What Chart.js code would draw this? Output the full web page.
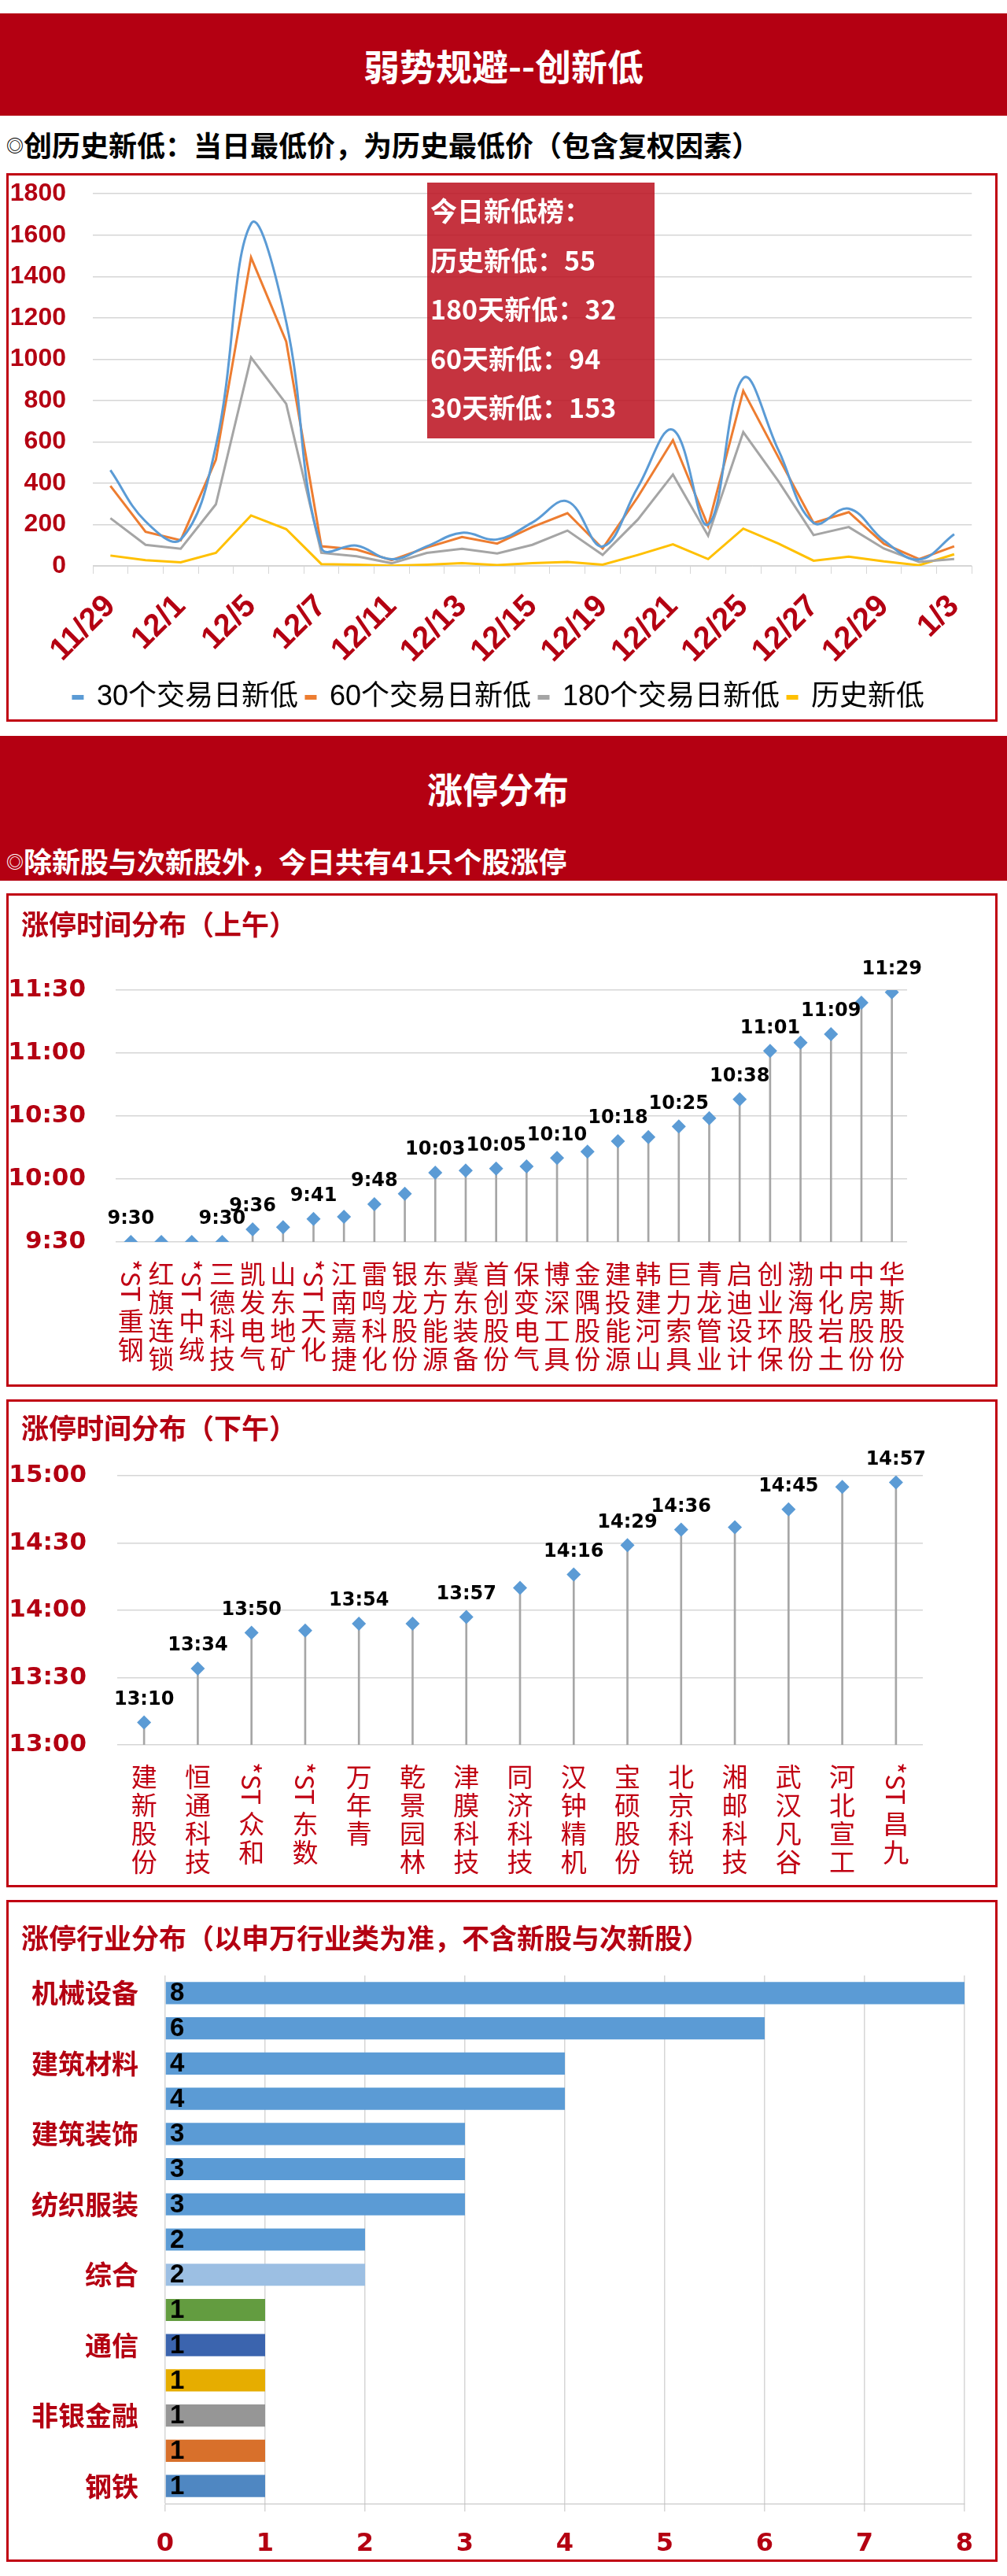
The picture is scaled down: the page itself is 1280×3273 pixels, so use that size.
<!DOCTYPE html>
<html>
<head>
<meta charset="utf-8">
<script src="https://cdn.jsdelivr.net/npm/chart.js@4.4.1/dist/chart.umd.min.js"></script>
<style>
  body { margin: 0; width: 1280px; height: 3273px; background: #fff; position: relative; overflow: hidden;
         font-family: "Noto Sans CJK SC", sans-serif; }
  .abs { position: absolute; }
  .red { background: #b40012; left: 0; width: 1280px; }
  .box { position: absolute; left: 8px; width: 1254px; border: 3px solid #c00012; background: #fff; }
  .box canvas { position: absolute; left: 0; top: 0; }
  .white { color: #fff; font-weight: bold; }
  .ctitle { position: absolute; left: 27px; height: 44px; line-height: 44px; font-size: 35px; font-weight: bold; color: #b40012; white-space: nowrap; z-index: 2; }
  .sub { position: absolute; left: 8px; height: 46px; line-height: 46px; font-size: 36px; font-weight: bold; white-space: nowrap; }
  .ring { font-size: 22px; vertical-align: 6px; }
  #info { left: 543px; top: 232px; width: 289px; height: 325px; background: rgba(188, 18, 32, 0.86); z-index: 3;
          color: #fff; font-weight: bold; font-size: 34px; padding: 4px 0 0 4px; box-sizing: border-box; }
  #info div { height: 62.5px; line-height: 62.5px; white-space: nowrap; }
</style>
</head>
<body>

<div class="abs red" style="top:17px;height:130px"></div>
<div class="abs white" style="top:17px;left:0;width:1280px;height:130px;line-height:130px;text-align:center;font-size:46px">弱势规避--创新低</div>
<div class="sub" style="top:160px;color:#000"><span class="ring">◎</span>创历史新低：当日最低价，为历史最低价（包含复权因素）</div>

<div class="box" style="top:220px;height:691px"><canvas id="lowChart" width="1254" height="691"></canvas></div>
<div id="info" class="abs">
  <div>今日新低榜：</div>
  <div>历史新低：55</div>
  <div>180天新低：32</div>
  <div>60天新低：94</div>
  <div>30天新低：153</div>
</div>

<div class="abs red" style="top:935px;height:184px"></div>
<div class="abs white" style="top:972px;left:0;width:1266px;height:60px;line-height:60px;text-align:center;font-size:45px">涨停分布</div>
<div class="sub white" style="top:1070px"><span class="ring">◎</span>除新股与次新股外，今日共有41只个股涨停</div>

<div class="box" style="top:1135px;height:621px"><canvas id="amChart" width="1254" height="621"></canvas></div>
<div class="ctitle" style="top:1151px">涨停时间分布（上午）</div>

<div class="box" style="top:1778px;height:614px"><canvas id="pmChart" width="1254" height="614"></canvas></div>
<div class="ctitle" style="top:1791px">涨停时间分布（下午）</div>

<div class="box" style="top:2414px;height:835px"><canvas id="indChart" width="1254" height="835"></canvas></div>
<div class="ctitle" style="top:2439px">涨停行业分布（以申万行业类为准，不含新股与次新股）</div>

<script>
// ---- new lows ----
const dates = ['11/29','11/30','12/1','12/4','12/5','12/6','12/7','12/8','12/11','12/12','12/13','12/14','12/15',
  '12/18','12/19','12/20','12/21','12/22','12/25','12/26','12/27','12/28','12/29','1/2','1/3'];
const low30 = [463,215,128,580,1655,1180,88,98,32,95,160,128,210,312,94,380,658,200,908,560,208,277,123,31,153];
const low60 = [387,165,124,514,1492,1085,95,79,28,89,140,108,188,255,84,333,608,193,847,525,208,260,107,33,95];
const low180 = [231,102,83,298,1008,784,63,47,13,63,83,60,102,171,53,224,442,146,647,410,149,188,84,19,33];
const lowHist = [50,28,17,63,244,178,9,6,1,6,13,4,13,19,6,53,104,33,180,108,25,45,22,3,56];

// ---- limit-up times, morning ----
const amNames = ['*ST重钢','红旗连锁','*ST中绒','三德科技','凯发电气','山东地矿','*ST天化','江南嘉捷','雷鸣科化',
  '银龙股份','东方能源','冀东装备','首创股份','保变电气','博深工具','金隅股份','建投能源','韩建河山','巨力索具',
  '青龙管业','启迪设计','创业环保','渤海股份','中化岩土','中房股份','华斯股份'];
const amTimes = ['9:30','9:30','9:30','9:30','9:36','9:37','9:41','9:42','9:48','9:53','10:03','10:04','10:05',
  '10:06','10:10','10:13','10:18','10:20','10:25','10:29','10:38','11:01','11:05','11:09','11:24','11:29'];
const amShown = [0,3,4,6,8,10,12,14,16,18,20,21,23,25];

// ---- limit-up times, afternoon ----
const pmNames = ['建新股份','恒通科技','*ST众和','*ST东数','万年青','乾景园林','津膜科技','同济科技','汉钟精机',
  '宝硕股份','北京科锐','湘邮科技','武汉凡谷','河北宣工','*ST昌九'];
const pmTimes = ['13:10','13:34','13:50','13:51','13:54','13:54','13:57','14:10','14:16','14:29','14:36','14:37',
  '14:45','14:55','14:57'];
const pmShown = [0,1,2,4,6,8,9,10,12,14];

// ---- industries ----
const indNames = ['机械设备','','建筑材料','','建筑装饰','','纺织服装','','综合','','通信','','非银金融','','钢铁'];
const indCounts = [8,6,4,4,3,3,3,2,2,1,1,1,1,1,1];
const indColors = ['#5b9bd5','#5b9bd5','#5b9bd5','#5b9bd5','#5b9bd5','#5b9bd5','#5b9bd5','#5b9bd5',
  '#9cbfe3','#639c40','#3b64ae','#e6ad00','#969696','#d8702b','#4f87c2'];

const RED = '#b40012';
const GRID = '#d6d6d6';

function toMin(t) {
  const p = t.split(':');
  return +p[0] * 60 + +p[1];
}
function fmtMin(v) {
  return Math.floor(v / 60) + ':' + String(v % 60).padStart(2, '0');
}

Chart.defaults.font.family = '"Liberation Sans", "Noto Sans CJK SC", sans-serif';
Chart.defaults.animation = false;

// time labels above markers
const pointLabels = {
  id: 'pointLabels',
  afterDatasetsDraw(chart, args, opts) {
    const meta = chart.getDatasetMeta(opts.dataset);
    const ctx = chart.ctx;
    ctx.save();
    ctx.font = 'bold 24px "DejaVu Sans"';
    ctx.fillStyle = '#000';
    ctx.textAlign = 'center';
    ctx.textBaseline = 'middle';
    opts.shown.forEach(i => {
      const p = meta.data[i];
      ctx.fillText(opts.texts[i], p.x, p.y - 29);
    });
    ctx.restore();
  }
};

// stock names written top to bottom
const vertNames = {
  id: 'vertNames',
  afterDraw(chart, args, opts) {
    const xs = chart.scales.x;
    const ctx = chart.ctx;
    const step = opts.step;
    ctx.save();
    ctx.font = '33px "Noto Sans CJK SC"';
    ctx.fillStyle = '#c00012';
    ctx.textBaseline = 'middle';
    opts.names.forEach((name, i) => {
      const x = xs.getPixelForValue(i);
      let y = chart.chartArea.bottom + opts.gap;
      let rest = name;
      if (name.startsWith('*ST')) {
        const w = ctx.measureText('*ST').width;
        ctx.save();
        ctx.translate(x, y);
        ctx.rotate(Math.PI / 2);
        ctx.textAlign = 'left';
        ctx.fillText('*ST', 0, 0);
        ctx.restore();
        y += w + 6;
        rest = name.slice(3);
      }
      ctx.textAlign = 'center';
      for (const ch of rest) {
        ctx.fillText(ch, x, y + step / 2);
        y += step;
      }
    });
    ctx.restore();
  }
};

// counts at the bar base
const barValues = {
  id: 'barValues',
  afterDatasetsDraw(chart) {
    const meta = chart.getDatasetMeta(0);
    const x0 = chart.scales.x.getPixelForValue(0);
    const ctx = chart.ctx;
    ctx.save();
    ctx.font = 'bold 33px "Liberation Sans"';
    ctx.fillStyle = '#000';
    ctx.textAlign = 'left';
    ctx.textBaseline = 'middle';
    meta.data.forEach((bar, i) => {
      ctx.fillText(String(indCounts[i]), x0 + 6, bar.y + 1);
    });
    ctx.restore();
  }
};

new Chart(document.getElementById('lowChart'), {
  type: 'line',
  data: {
    labels: dates,
    datasets: [
      { label: '30个交易日新低', data: low30, borderColor: '#5b9bd5', backgroundColor: '#5b9bd5', borderWidth: 3, tension: 0.4, pointRadius: 0 },
      { label: '60个交易日新低', data: low60, borderColor: '#ed7d31', backgroundColor: '#ed7d31', borderWidth: 3, tension: 0, pointRadius: 0 },
      { label: '180个交易日新低', data: low180, borderColor: '#a5a5a5', backgroundColor: '#a5a5a5', borderWidth: 3, tension: 0, pointRadius: 0 },
      { label: '历史新低', data: lowHist, borderColor: '#ffc000', backgroundColor: '#ffc000', borderWidth: 3, tension: 0, pointRadius: 0 }
    ]
  },
  options: {
    responsive: false,
    devicePixelRatio: 1,
    layout: { padding: { top: 22, right: 8, bottom: 0, left: 0 } },
    plugins: {
      tooltip: { enabled: false },
      legend: {
        position: 'bottom',
        labels: { color: '#000', font: { size: 36 }, boxWidth: 12, boxHeight: 3, padding: 10 }
      }
    },
    scales: {
      x: {
        offset: true,
        grid: { offset: true, drawOnChartArea: false, tickLength: 10, color: GRID },
        border: { color: GRID },
        ticks: {
          autoSkip: false, maxRotation: 45, minRotation: 45, padding: 18,
          color: RED, font: { size: 40, weight: 'bold' },
          callback: (v, i) => (i % 2 === 0 ? dates[i] : '')
        },
        afterFit: s => { s.height = 139; }
      },
      y: {
        min: 0, max: 1800,
        // transparent tick marks give the label gap without padding the top of the axis
        grid: { color: GRID, lineWidth: 1.5, drawTicks: true, tickLength: 30, tickColor: 'rgba(0,0,0,0)' },
        border: { display: false },
        ticks: { stepSize: 200, padding: 4, color: RED, font: { size: 32, weight: 'bold' }, callback: v => String(v) },
        afterFit: s => { s.width = 107; }
      }
    }
  }
});

function timeChart(id, names, times, shown, yMin, yMax, pad, yWidth, yPad) {
  const mins = times.map(toMin);
  new Chart(document.getElementById(id), {
    type: 'bar',
    data: {
      labels: names,
      datasets: [
        { type: 'line', data: mins, showLine: false, pointStyle: 'rectRot', pointRadius: 9,
          pointBackgroundColor: '#5b9bd5', pointBorderColor: '#5b9bd5', pointBorderWidth: 0, order: 1 },
        { type: 'bar', data: mins.map(v => [yMin, v]), backgroundColor: '#a6a6a6', barThickness: 2, order: 2 }
      ]
    },
    options: {
      responsive: false,
      devicePixelRatio: 1,
      layout: { padding: pad },
      plugins: {
        legend: { display: false },
        tooltip: { enabled: false },
        pointLabels: { dataset: 0, shown: shown, texts: times },
        vertNames: { names: names, gap: 22, step: 36 }
      },
      scales: {
        x: { type: 'category', offset: true, grid: { display: false }, ticks: { display: false }, border: { display: false } },
        y: {
          min: yMin, max: yMax,
          grid: { color: GRID, lineWidth: 1.5, drawTicks: false },
          border: { display: false },
          ticks: { stepSize: 30, padding: yPad, color: RED, font: { size: 31, weight: 'bold', family: '"DejaVu Sans"' }, callback: v => fmtMin(v) },
          afterFit: s => { s.width = yWidth; }
        }
      }
    },
    plugins: [pointLabels, vertNames]
  });
}

timeChart('amChart', amNames, amTimes, amShown, toMin('9:30'), toMin('11:30'),
  { top: 120, right: 112, bottom: 173, left: 0 }, 136, 38);
timeChart('pmChart', pmNames, pmTimes, pmShown, toMin('13:00'), toMin('15:00'),
  { top: 94, right: 92, bottom: 170, left: 0 }, 138, 39);

new Chart(document.getElementById('indChart'), {
  type: 'bar',
  data: {
    labels: indNames,
    datasets: [{ data: indCounts, backgroundColor: indColors, categoryPercentage: 1, barPercentage: 0.63 }]
  },
  options: {
    indexAxis: 'y',
    responsive: false,
    devicePixelRatio: 1,
    layout: { padding: { top: 93, right: 39, bottom: 0, left: 0 } },
    plugins: { legend: { display: false }, tooltip: { enabled: false } },
    scales: {
      x: {
        min: 0, max: 8,
        grid: { color: GRID, lineWidth: 1.5, tickLength: 10 },
        border: { color: '#bfbfbf' },
        ticks: { stepSize: 1, padding: 22, color: RED, font: { size: 32, weight: 'bold', family: '"DejaVu Sans"' } },
        afterFit: s => { s.height = 71; }
      },
      y: {
        grid: { display: false, drawTicks: false },
        border: { display: false },
        ticks: { autoSkip: false, padding: 34, color: RED, font: { size: 34, weight: 'bold', family: '"Noto Sans CJK SC"' } },
        afterFit: s => { s.width = 199; }
      }
    }
  },
  plugins: [barValues]
});
</script>
</body>
</html>
